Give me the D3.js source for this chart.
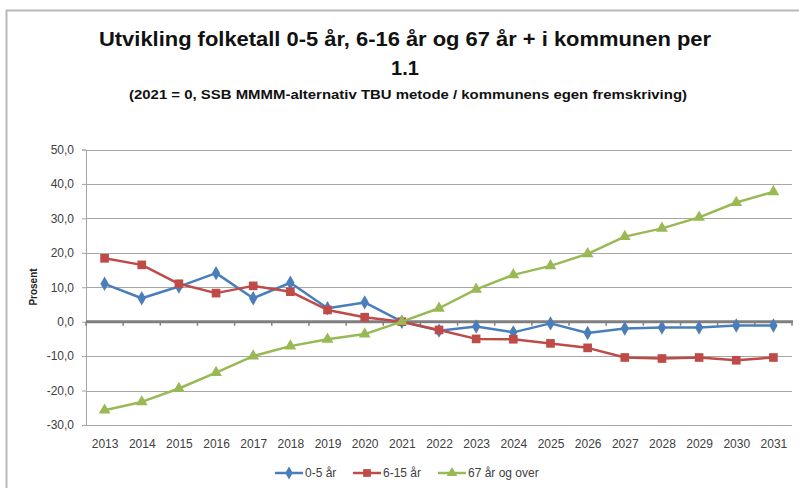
<!DOCTYPE html>
<html>
<head>
<meta charset="utf-8">
<script src="https://cdn.jsdelivr.net/npm/d3@7"></script>
<style>
  body { margin: 0; background: #fff; }
  svg { display: block; font-family: "Liberation Sans", Arial, sans-serif; }
</style>
</head>
<body>
<div id="chart"></div>
<script>
// data
var years = ["2013","2014","2015","2016","2017","2018","2019","2020","2021","2022",
             "2023","2024","2025","2026","2027","2028","2029","2030","2031"];
var age0to5 = [11.0, 6.8, 10.2, 14.1, 6.8, 11.3, 3.9, 5.6, 0, -2.6,
               -1.4, -3.1, -0.5, -3.3, -2.0, -1.7, -1.7, -1.1, -1.1];
var age6to15 = [18.4, 16.5, 11.0, 8.3, 10.4, 8.7, 3.4, 1.3, 0, -2.4,
                -5.0, -5.1, -6.3, -7.6, -10.4, -10.7, -10.4, -11.2, -10.4];
var age67plus = [-25.7, -23.3, -19.4, -14.8, -10.0, -7.1, -5.1, -3.6, 0, 3.9,
                 9.4, 13.6, 16.2, 19.7, 24.7, 27.1, 30.3, 34.6, 37.7];
var seriesNames = ["0-5 år", "6-15 år", "67 år og over"];
var yTicks = [-30, -20, -10, 0, 10, 20, 30, 40, 50];

var series = [
  { name: seriesNames[0], values: age0to5, color: "#4a7ebb", symbol: d3.symbolDiamond, size: 60 },
  { name: seriesNames[1], values: age6to15, color: "#be4b48", symbol: d3.symbolSquare, size: 75 },
  { name: seriesNames[2], values: age67plus, color: "#98b954", symbol: d3.symbolTriangle, size: 60 }
];

var width = 799, height = 488;
var plotLeft = 86, plotRight = 792, plotTop = 149.5, plotBottom = 425;

var svg = d3.select("#chart")
    .append("svg")
    .attr("width", width)
    .attr("height", height);

// outer frame (only top and left visible)
svg.append("path")
    .attr("d", "M6.5,488V10.5H799")
    .attr("fill", "none")
    .attr("stroke", "#b9b9b9")
    .attr("stroke-width", 2);

// titles
svg.append("text")
    .attr("x", 405).attr("y", 46)
    .attr("text-anchor", "middle")
    .attr("font-weight", "bold")
    .attr("font-size", 20)
    .attr("fill", "#111")
    .attr("textLength", 612)
    .attr("lengthAdjust", "spacingAndGlyphs")
    .text("Utvikling folketall 0-5 år, 6-16 år og 67 år + i kommunen per");

svg.append("text")
    .attr("x", 405).attr("y", 75)
    .attr("text-anchor", "middle")
    .attr("font-weight", "bold")
    .attr("font-size", 20)
    .attr("fill", "#111")
    .text("1.1");

svg.append("text")
    .attr("x", 408).attr("y", 99)
    .attr("text-anchor", "middle")
    .attr("font-weight", "bold")
    .attr("font-size", 12)
    .attr("fill", "#111")
    .attr("textLength", 558)
    .attr("lengthAdjust", "spacingAndGlyphs")
    .text("(2021 = 0, SSB MMMM-alternativ TBU metode / kommunens egen fremskriving)");

var x = d3.scalePoint()
    .domain(years)
    .range([plotLeft, plotRight])
    .padding(0.5);

var y = d3.scaleLinear()
    .domain([-30, 50])
    .range([plotBottom, plotTop]);

var fmt = function (d) { return d3.format(".1f")(d).replace(".", ",").replace("−", "-"); };

// gridlines
svg.append("g")
    .selectAll("line")
    .data(yTicks.filter(function (d) { return d !== 0; }))
    .enter()
    .append("line")
    .attr("x1", plotLeft).attr("x2", plotRight)
    .attr("y1", function (d) { return Math.round(y(d)) + 0.5; })
    .attr("y2", function (d) { return Math.round(y(d)) + 0.5; })
    .attr("stroke", "#a6a6a6")
    .attr("stroke-width", 1);

// y axis
var yAxis = svg.append("g")
    .attr("transform", "translate(" + plotLeft + ",0)")
    .call(d3.axisLeft(y).tickValues(yTicks).tickFormat(fmt).tickSize(4).tickPadding(8));
yAxis.select(".domain").attr("stroke", "#a6a6a6");
yAxis.selectAll(".tick line").attr("stroke", "#a6a6a6");
yAxis.selectAll("text")
    .attr("font-size", 12)
    .attr("font-family", "Liberation Sans, Arial, sans-serif")
    .attr("fill", "#404040");

// x labels (axis sits at bottom of plot, no line)
var xAxis = svg.append("g")
    .attr("transform", "translate(0," + plotBottom + ")")
    .call(d3.axisBottom(x).tickSize(0).tickPadding(14));
xAxis.select(".domain").remove();
xAxis.selectAll("text")
    .attr("font-size", 12)
    .attr("font-family", "Liberation Sans, Arial, sans-serif")
    .attr("fill", "#404040");

// zero line with category tick marks
var step = x.step();
svg.append("g")
    .selectAll("line")
    .data(d3.range(years.length + 1))
    .enter()
    .append("line")
    .attr("x1", function (i) { return plotLeft + i * step; })
    .attr("x2", function (i) { return plotLeft + i * step; })
    .attr("y1", y(0))
    .attr("y2", y(0) + 4)
    .attr("stroke", "#808080")
    .attr("stroke-width", 1.5);

svg.append("line")
    .attr("x1", plotLeft).attr("x2", plotRight + 1)
    .attr("y1", y(0)).attr("y2", y(0))
    .attr("stroke", "#7f7f7f")
    .attr("stroke-width", 3);

// y title
svg.append("text")
    .attr("transform", "translate(37,287) rotate(-90)")
    .attr("text-anchor", "middle")
    .attr("font-weight", "bold")
    .attr("font-size", 10)
    .attr("fill", "#222")
    .text("Prosent");

// lines
var line = d3.line()
    .x(function (d, i) { return x(years[i]); })
    .y(function (d) { return y(d); });

series.forEach(function (s) {
    svg.append("path")
        .datum(s.values)
        .attr("fill", "none")
        .attr("stroke", s.color)
        .attr("stroke-width", 2.5)
        .attr("stroke-linejoin", "round")
        .attr("d", line);

    svg.append("g")
        .selectAll("path")
        .data(s.values)
        .enter()
        .append("path")
        .attr("d", d3.symbol().type(s.symbol).size(s.size))
        .attr("transform", function (d, i) {
            return "translate(" + x(years[i]) + "," + y(d) + ")";
        })
        .attr("fill", s.color);
});

// legend
var legendX = [275, 353, 438];
var legend = svg.append("g");
series.forEach(function (s, i) {
    var g = legend.append("g").attr("transform", "translate(" + legendX[i] + ",473)");
    g.append("line")
        .attr("x1", 0).attr("x2", 28)
        .attr("stroke", s.color)
        .attr("stroke-width", 2.5);
    g.append("path")
        .attr("d", d3.symbol().type(s.symbol).size(s.size * 0.8))
        .attr("transform", "translate(14,0)")
        .attr("fill", s.color);
    g.append("text")
        .attr("x", 30).attr("y", 4)
        .attr("font-size", 12)
        .attr("fill", "#404040")
        .text(s.name);
});
</script>
</body>
</html>
